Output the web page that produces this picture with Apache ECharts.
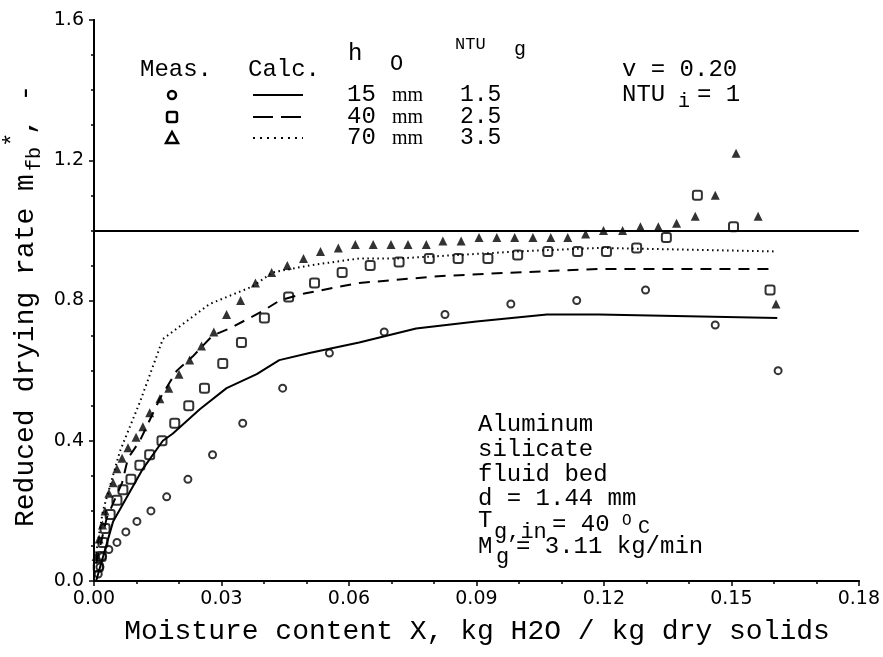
<!DOCTYPE html>
<html>
<head>
    <meta charset="utf-8">
    <title>Reduced drying rate</title>
    <script src="https://cdn.jsdelivr.net/npm/echarts@6/dist/echarts.min.js"></script>
    <style type="text/css">
        * {
            margin: 0px;
            padding: 0px;
        }

        #main {
            width: 883px;
            height: 657px;
            background: #fff;
        }
    </style>
</head>
<body>
<div id="main"></div>
<script type="text/javascript">
    // measured points, h0 = 15 mm (circles)
    var meas15X = [0.0010, 0.0014, 0.0020, 0.0035, 0.0054, 0.0075, 0.0101, 0.0134, 0.0171, 0.0221, 0.0279, 0.0350, 0.0444, 0.0554, 0.0683, 0.0826, 0.0981, 0.1136, 0.1298, 0.1462, 0.1610];
    var meas15Y = [0.02, 0.04, 0.07, 0.09, 0.11, 0.14, 0.17, 0.20, 0.24, 0.29, 0.36, 0.45, 0.55, 0.65, 0.71, 0.76, 0.79, 0.80, 0.83, 0.73, 0.60];

    // measured points, h0 = 40 mm (squares)
    var meas40X = [0.0010, 0.0017, 0.0021, 0.0026, 0.0038, 0.0054, 0.0068, 0.0087, 0.0108, 0.0131, 0.0160, 0.0190, 0.0223, 0.0260, 0.0303, 0.0347, 0.0401, 0.0458, 0.0519, 0.0584, 0.0650, 0.0718, 0.0789, 0.0857, 0.0927, 0.0997, 0.1068, 0.1138, 0.1206, 0.1277, 0.1347, 0.1420, 0.1505, 0.1591];
    var meas40Y = [0.04, 0.07, 0.11, 0.15, 0.19, 0.23, 0.26, 0.29, 0.33, 0.36, 0.40, 0.45, 0.50, 0.55, 0.62, 0.68, 0.75, 0.81, 0.85, 0.88, 0.90, 0.91, 0.92, 0.92, 0.92, 0.93, 0.94, 0.94, 0.94, 0.95, 0.98, 1.10, 1.01, 0.83];

    // measured points, h0 = 70 mm (triangles)
    var meas70X = [0.0005, 0.0012, 0.0020, 0.0026, 0.0035, 0.0045, 0.0054, 0.0066, 0.0080, 0.0099, 0.0115, 0.0131, 0.0155, 0.0176, 0.0200, 0.0225, 0.0253, 0.0282, 0.0312, 0.0345, 0.0380, 0.0418, 0.0455, 0.0493, 0.0533, 0.0575, 0.0615, 0.0657, 0.0699, 0.0739, 0.0782, 0.0821, 0.0864, 0.0906, 0.0948, 0.0990, 0.1033, 0.1075, 0.1115, 0.1157, 0.1199, 0.1244, 0.1286, 0.1328, 0.1371, 0.1415, 0.1462, 0.1511, 0.1563, 0.1605];
    var meas70Y = [0.07, 0.12, 0.16, 0.20, 0.25, 0.28, 0.32, 0.35, 0.38, 0.41, 0.44, 0.48, 0.52, 0.55, 0.59, 0.63, 0.67, 0.71, 0.76, 0.80, 0.85, 0.88, 0.90, 0.92, 0.94, 0.95, 0.96, 0.96, 0.96, 0.96, 0.96, 0.97, 0.97, 0.98, 0.98, 0.98, 0.98, 0.98, 0.98, 0.99, 1.00, 1.00, 1.01, 1.01, 1.02, 1.04, 1.10, 1.22, 1.04, 0.79];

    // calculated curves
    var calc15X = [0.0005, 0.0045, 0.0115, 0.0162, 0.0185, 0.0249, 0.0312, 0.0383, 0.0436, 0.0507, 0.0624, 0.0758, 0.0900, 0.1066, 0.1188, 0.1608];
    var calc15Y = [0.00, 0.17, 0.32, 0.40, 0.42, 0.49, 0.55, 0.59, 0.63, 0.65, 0.68, 0.72, 0.74, 0.76, 0.76, 0.75];
    var calc40X = [0.0005, 0.0030, 0.0066, 0.0080, 0.0108, 0.0155, 0.0195, 0.0232, 0.0279, 0.0319, 0.0397, 0.0437, 0.0495, 0.0624, 0.0819, 0.0993, 0.1188, 0.1590];
    var calc40Y = [0.05, 0.18, 0.28, 0.35, 0.40, 0.52, 0.60, 0.64, 0.70, 0.72, 0.77, 0.80, 0.82, 0.85, 0.87, 0.88, 0.89, 0.89];
    var calc70X = [0.0005, 0.0021, 0.0061, 0.0108, 0.0162, 0.0195, 0.0272, 0.0373, 0.0420, 0.0507, 0.0624, 0.0718, 0.1000, 0.1188, 0.1603];
    var calc70Y = [0.08, 0.20, 0.37, 0.51, 0.69, 0.72, 0.79, 0.84, 0.88, 0.90, 0.92, 0.92, 0.94, 0.95, 0.94];

    // reference level line
    var refLevel = 1.0;

    // axis ranges
    var xMin = 0, xMax = 0.18, xStep = 0.03;
    var yMin = 0, yMax = 1.6, yStep = 0.4;

    var mono = 'Liberation Mono';

    function pairs(xs, ys) {
        return xs.map(function (x, i) { return [x, ys[i]]; });
    }

    function txt(s, x, y, size, fam, align) {
        return {
            type: 'text', x: x, y: y,
            style: {
                text: s, fontSize: size, fontFamily: fam || mono, fill: '#000',
                textAlign: align || 'left', textVerticalAlign: 'middle'
            }
        };
    }

    function axisX(pos) {
        var bottom = pos === 'bottom';
        return {
            type: 'value', position: pos, min: xMin, max: xMax, interval: xStep,
            axisLine: {lineStyle: {color: '#000', width: 2}},
            axisTick: {inside: !bottom, length: 5, lineStyle: {color: '#000', width: 1.5}},
            minorTick: {show: true, splitNumber: 3, length: 3, lineStyle: {color: '#000', width: 1.5}},
            axisLabel: {
                show: bottom, margin: 9, color: '#000', fontSize: 19, fontFamily: 'DejaVu Sans',
                formatter: function (v) { return v.toFixed(2); }
            },
            splitLine: {show: false},
            minorSplitLine: {show: false}
        };
    }

    function axisY(pos) {
        var left = pos === 'left';
        return {
            type: 'value', position: pos, min: yMin, max: yMax, interval: yStep,
            axisLine: {lineStyle: {color: '#000', width: 2}},
            axisTick: {inside: !left, length: 5, lineStyle: {color: '#000', width: 1.5}},
            minorTick: {show: true, splitNumber: 4, length: 3, lineStyle: {color: '#000', width: 1.5}},
            axisLabel: {
                show: left, margin: 10, color: '#000', fontSize: 19, fontFamily: 'DejaVu Sans',
                formatter: function (v) { return v.toFixed(1); }
            },
            splitLine: {show: false},
            minorSplitLine: {show: false}
        };
    }

    var chart = echarts.init(document.getElementById('main'));

    var option = {
        animation: false,
        backgroundColor: '#fff',
        grid: {left: 94, right: 22, top: 20, bottom: 76, containLabel: false},
        xAxis: [axisX('bottom'), axisX('top')],
        yAxis: [axisY('left'), axisY('right')],
        series: [
            {
                name: 'calc 15 mm', type: 'line', data: pairs(calc15X, calc15Y),
                symbol: 'none', lineStyle: {color: '#000', width: 2, type: 'solid'},
                markLine: {
                    silent: true, symbol: ['none', 'none'], label: {show: false},
                    lineStyle: {color: '#000', width: 2, type: 'solid'},
                    data: [{yAxis: refLevel}]
                }
            },
            {
                name: 'calc 40 mm', type: 'line', data: pairs(calc40X, calc40Y),
                symbol: 'none', lineStyle: {color: '#000', width: 2, type: [11, 8]}
            },
            {
                name: 'calc 70 mm', type: 'line', data: pairs(calc70X, calc70Y),
                symbol: 'none', lineStyle: {color: '#000', width: 2, type: [1.5, 3.5]}
            },
            {
                name: 'meas 15 mm', type: 'scatter', data: pairs(meas15X, meas15Y),
                symbol: 'circle', symbolSize: 7,
                itemStyle: {color: 'rgba(0,0,0,0)', borderColor: '#000', borderWidth: 2}
            },
            {
                name: 'meas 40 mm', type: 'scatter', data: pairs(meas40X, meas40Y),
                symbol: 'roundRect', symbolSize: 9,
                itemStyle: {color: 'rgba(0,0,0,0)', borderColor: '#000', borderWidth: 2}
            },
            {
                name: 'meas 70 mm', type: 'scatter', data: pairs(meas70X, meas70Y),
                symbol: 'triangle', symbolSize: 9,
                itemStyle: {color: '#000'}
            }
        ],
        graphic: [
            // legend table
            txt('Meas.', 140, 70, 24),
            txt('Calc.', 248, 70, 24),
            txt('h', 348, 54, 24),
            txt('O', 390, 64, 22),
            txt('NTU', 455, 44, 17),
            txt('g', 514, 50, 20),
            {type: 'circle', shape: {cx: 172, cy: 95, r: 4}, style: {fill: 'none', stroke: '#000', lineWidth: 2.5}},
            {type: 'rect', shape: {x: 167, y: 112, width: 10, height: 10, r: 2}, style: {fill: 'none', stroke: '#000', lineWidth: 2.5}},
            {type: 'polygon', shape: {points: [[172, 132], [166, 143], [178, 143]]}, style: {fill: 'none', stroke: '#000', lineWidth: 2.5}},
            {type: 'line', shape: {x1: 253, y1: 95, x2: 303, y2: 95}, style: {stroke: '#000', lineWidth: 2}},
            {type: 'line', shape: {x1: 253, y1: 117, x2: 303, y2: 117}, style: {stroke: '#000', lineWidth: 2, lineDash: [20, 8]}},
            {type: 'line', shape: {x1: 253, y1: 138, x2: 303, y2: 138}, style: {stroke: '#000', lineWidth: 2, lineDash: [2, 5]}},
            txt('15', 347, 95, 24), txt('mm', 392, 96, 20, 'Liberation Serif'), txt('1.5', 460, 95, 23),
            txt('40', 347, 117, 24), txt('mm', 392, 118, 20, 'Liberation Serif'), txt('2.5', 460, 117, 23),
            txt('70', 347, 138, 24), txt('mm', 392, 139, 20, 'Liberation Serif'), txt('3.5', 460, 138, 23),

            // parameters, upper right
            txt('v = 0.20', 622, 70, 24),
            txt('NTU', 622, 95, 24),
            txt('i', 678, 102, 20),
            txt('= 1', 697, 95, 24),

            // material block
            txt('Aluminum', 478, 425, 24),
            txt('silicate', 478, 450, 24),
            txt('fluid bed', 478, 475, 24),
            txt('d = 1.44 mm', 478, 499, 24),
            txt('T', 478, 521, 24),
            txt('g,in', 494, 532, 22),
            txt('= 40', 552, 525, 24),
            txt('O', 622, 521, 16),
            txt('C', 638, 528, 20),
            txt('M', 478, 547, 24),
            txt('g', 496, 557, 22),
            txt('= 3.11 kg/min', 516, 547, 24),

            // axis titles
            txt('Moisture content X, kg H2O / kg dry solids', 477, 632, 28, mono, 'center'),
            {
                type: 'group', x: 26, y: 527, rotation: Math.PI / 2,
                children: [
                    txt('Reduced drying rate m', 0, 0, 28),
                    txt('fb', 356, 9, 20),
                    txt('*', 380, -12, 24),
                    txt(', -', 392, 0, 28)
                ]
            }
        ]
    };

    chart.setOption(option);
</script>
</body>
</html>
